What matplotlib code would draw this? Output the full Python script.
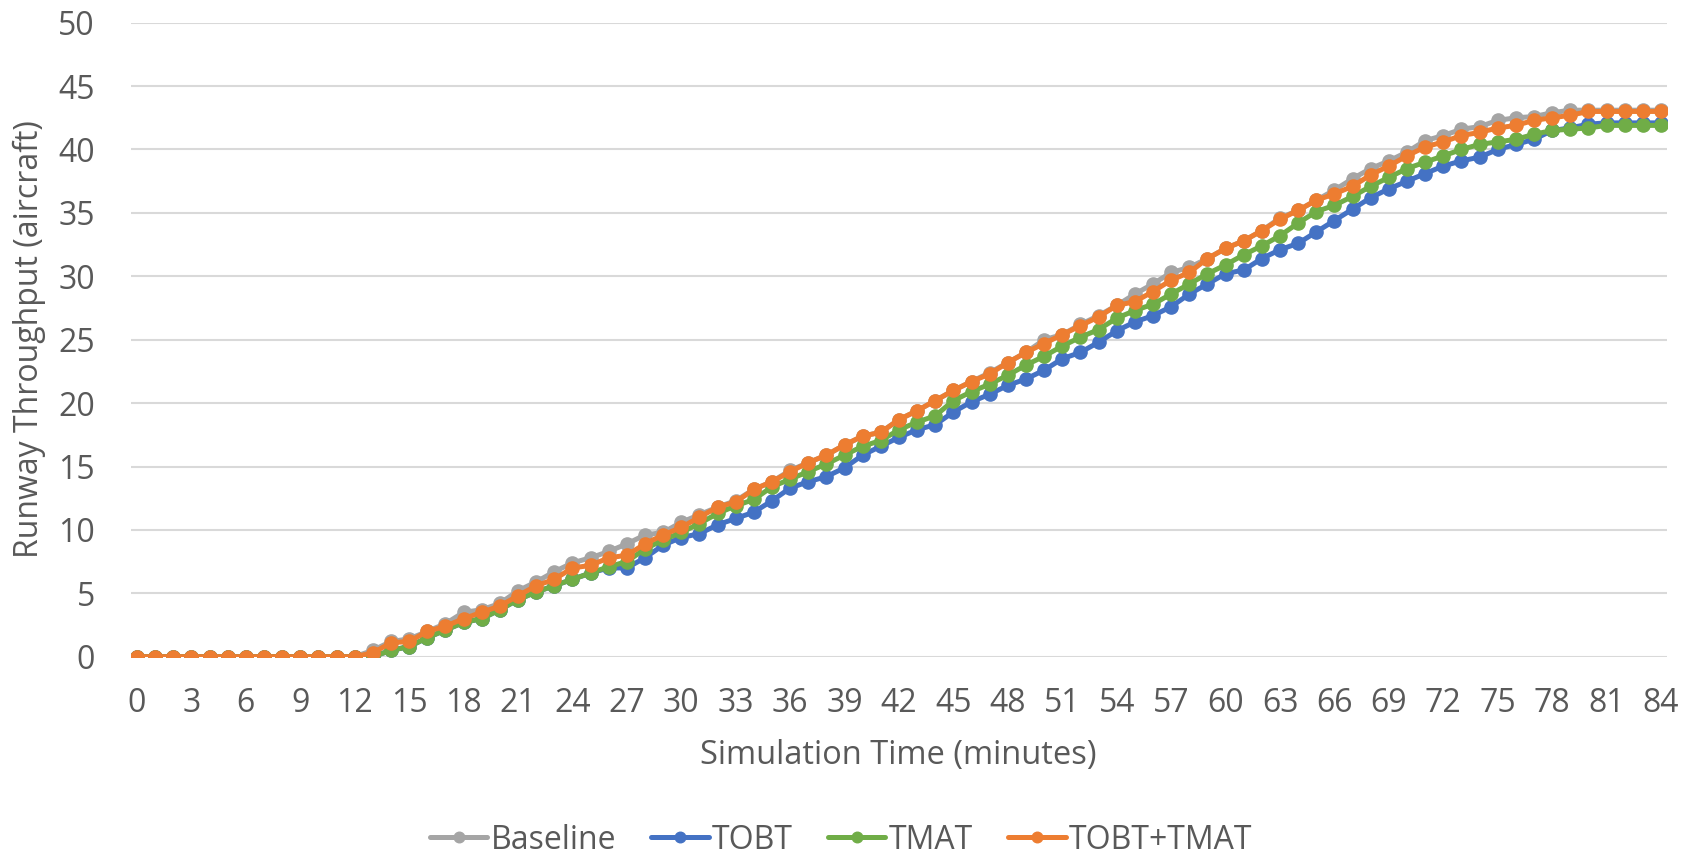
import matplotlib
matplotlib.use("Agg")
import matplotlib.pyplot as plt
import numpy as np

minutes = list(range(0, 85))

baseline = [0]*13 + [
    0.5, 1.2, 1.4, 2.0, 2.6, 3.5, 3.7, 4.2, 5.2, 5.9,
    6.7, 7.4, 7.8, 8.3, 8.9, 9.6, 9.8, 10.6, 11.2, 11.8,
    12.3, 13.2, 13.8, 14.7, 15.3, 15.9, 16.7, 17.4, 17.7, 18.7,
    19.4, 20.2, 21.0, 21.7, 22.4, 23.2, 24.0, 25.0, 25.4, 26.2,
    26.9, 27.7, 28.6, 29.4, 30.3, 30.7, 31.4, 32.2, 32.8, 33.6,
    34.6, 35.2, 36.0, 36.8, 37.7, 38.5, 39.1, 39.8, 40.7, 41.1,
    41.6, 41.8, 42.3, 42.5, 42.6, 42.9, 43.1, 43.1, 43.1, 43.1,
    43.1, 43.1]

tobt = [0]*14 + [
    0.5, 0.8, 1.5, 2.1, 2.7, 3.0, 3.7, 4.5, 5.1, 5.6,
    6.1, 6.6, 7.0, 7.0, 7.8, 8.8, 9.4, 9.7, 10.4, 10.9,
    11.4, 12.3, 13.3, 13.8, 14.2, 14.9, 15.9, 16.6, 17.3, 17.9,
    18.3, 19.3, 20.1, 20.7, 21.4, 21.9, 22.6, 23.5, 24.0, 24.8,
    25.7, 26.4, 26.9, 27.6, 28.6, 29.4, 30.2, 30.5, 31.4, 32.1,
    32.6, 33.5, 34.4, 35.3, 36.2, 36.9, 37.5, 38.1, 38.7, 39.1,
    39.4, 40.0, 40.4, 40.8, 41.5, 41.7, 42.0, 42.1, 42.1, 42.1,
    42.1]

tmat = [0]*14 + [
    0.5, 0.8, 1.5, 2.1, 2.7, 3.0, 3.7, 4.5, 5.1, 5.6,
    6.1, 6.6, 7.1, 7.5, 8.5, 9.2, 9.8, 10.5, 11.3, 11.9,
    12.4, 13.4, 14.0, 14.6, 15.2, 15.9, 16.6, 17.05, 17.9, 18.5,
    19.0, 20.2, 20.9, 21.5, 22.2, 23.0, 23.7, 24.5, 25.2, 25.8,
    26.7, 27.3, 27.8, 28.6, 29.4, 30.2, 30.9, 31.7, 32.4, 33.2,
    34.2, 35.1, 35.6, 36.3, 37.1, 37.8, 38.5, 39.0, 39.5, 40.0,
    40.4, 40.6, 40.8, 41.2, 41.5, 41.6, 41.7, 41.9, 41.9, 41.9,
    41.9]

tobt_tmat = [0]*13 + [
    0.3, 1.1, 1.2, 2.0, 2.4, 3.0, 3.5, 4.0, 4.8, 5.6,
    6.1, 7.0, 7.2, 7.8, 8.0, 8.9, 9.6, 10.2, 11.0, 11.8,
    12.2, 13.2, 13.8, 14.6, 15.3, 15.9, 16.7, 17.4, 17.7, 18.7,
    19.4, 20.2, 21.0, 21.7, 22.3, 23.2, 24.0, 24.7, 25.4, 26.1,
    26.8, 27.7, 28.0, 28.8, 29.7, 30.3, 31.4, 32.2, 32.8, 33.6,
    34.5, 35.2, 36.0, 36.5, 37.1, 38.0, 38.7, 39.5, 40.2, 40.6,
    41.1, 41.35, 41.7, 41.9, 42.3, 42.5, 42.7, 43.0, 43.0, 43.0,
    43.0, 43.0]

series_names = ["Baseline", "TOBT", "TMAT", "TOBT+TMAT"]
series_colors = ["#A5A5A5", "#4472C4", "#70AD47", "#ED7D31"]
x_ticks = list(range(0, 85, 3))
y_ticks = list(range(0, 51, 5))

FONT = "Open Sans"
TXT = "#595959"
FS = 23

fig = plt.figure(figsize=(16.92, 8.55), dpi=100)
ax = fig.add_axes([131/1692, 1-656.7/855, (1667-131)/1692, (656.7-22.7)/855])

for name, vals, col in zip(series_names, [baseline, tobt, tmat, tobt_tmat], series_colors):
    ax.plot(minutes, vals, color=col, lw=3.6, marker="o", ms=9.5, mew=1,
            solid_capstyle="round", solid_joinstyle="round", label=name, zorder=3)

ax.set_xlim(-0.33, 84.33)
ax.set_ylim(0, 50)
ax.set_xticks(x_ticks)
ax.set_xticklabels([str(t) for t in x_ticks])
ax.set_yticks(y_ticks)
ax.set_yticklabels([str(t) for t in y_ticks])
ax.grid(axis="y", color="#D9D9D9", lw=1.5, zorder=0)
ax.set_axisbelow(True)
for s in ax.spines.values():
    s.set_visible(False)
ax.tick_params(axis="both", length=0, labelsize=FS, labelcolor=TXT)
ax.tick_params(axis="y", pad=26)
ax.tick_params(axis="x", pad=22)
for lab in ax.get_xticklabels() + ax.get_yticklabels():
    lab.set_fontfamily(FONT)

fig.text(898/1692, 1-755/855, "Simulation Time (minutes)", ha="center", va="center",
         fontsize=23.5, color=TXT, family=FONT)
fig.text(29/1692, 1-339/855, "Runway Throughput (aircraft)", ha="center", va="center",
         rotation=90, fontsize=FS, color=TXT, family=FONT)

leg = fig.legend(loc="center", bbox_to_anchor=(841/1692, 1-840/855), ncol=4, frameon=False,
                 prop={"family": FONT, "size": FS}, handlelength=1.8, handletextpad=0.1,
                 columnspacing=1.1, borderpad=0, markerscale=0.8)
for t in leg.get_texts():
    t.set_color(TXT)

fig.savefig("out.png", dpi=100)
